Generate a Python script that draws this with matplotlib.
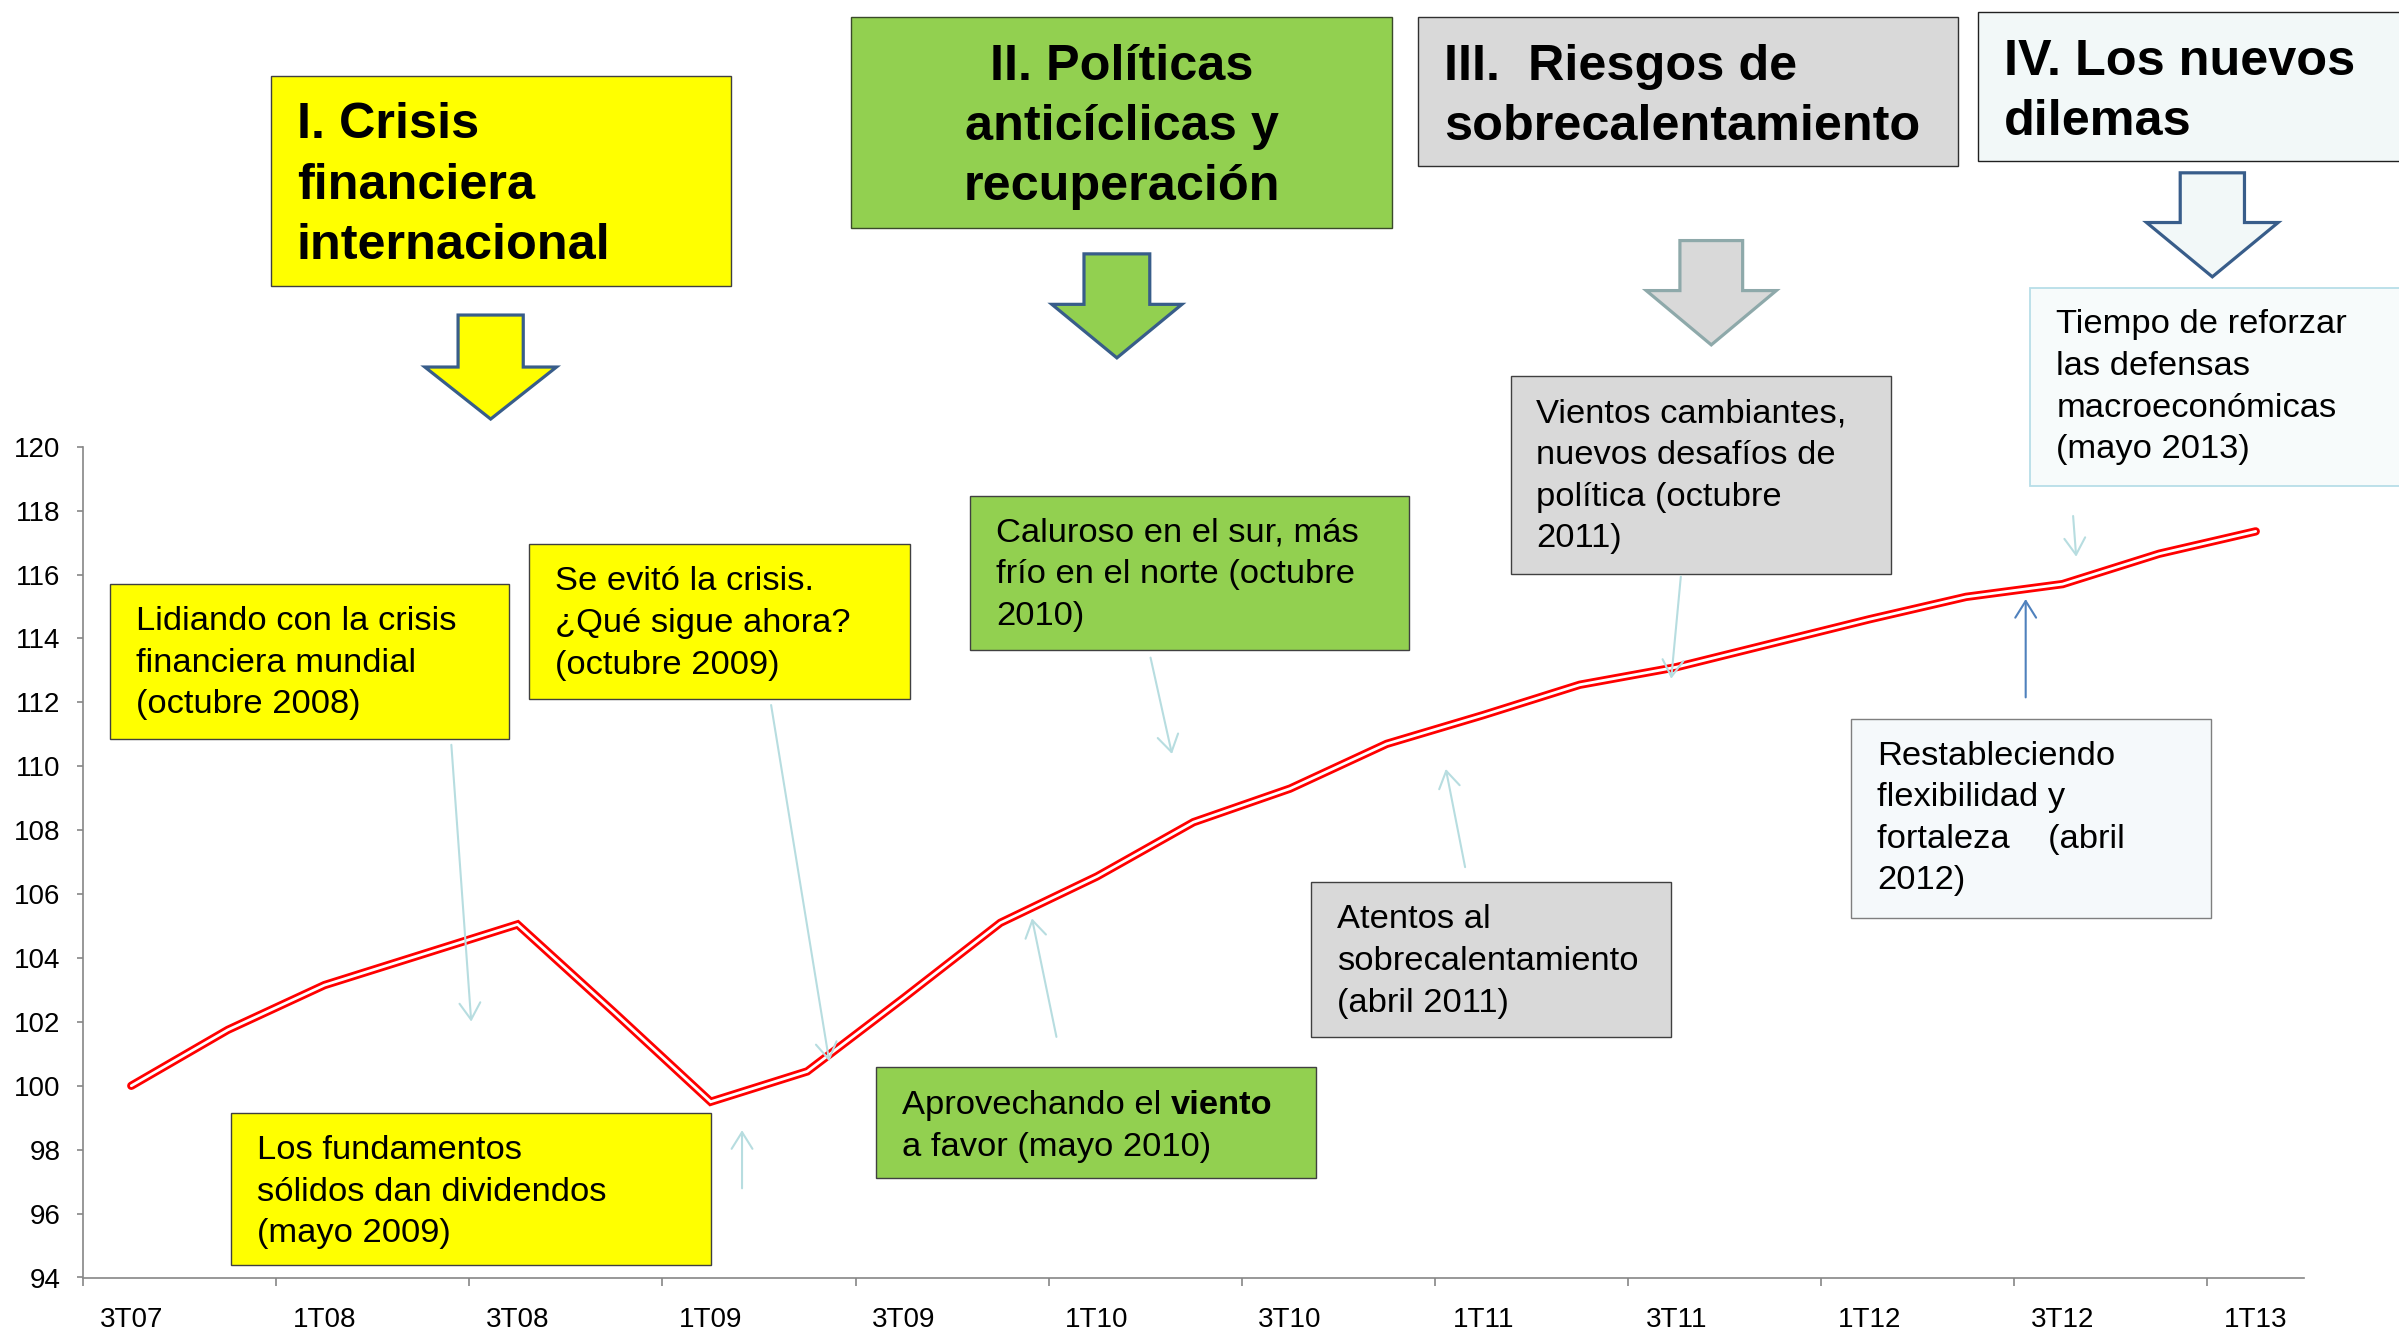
import matplotlib
matplotlib.use('Agg')
import matplotlib.pyplot as plt
from matplotlib.patches import Rectangle, Polygon, FancyArrowPatch
import numpy as np

plt.rcParams['font.family'] = ['Liberation Sans', 'DejaVu Sans']

# ---------------- data ----------------
quarters = ['3T07', '4T07', '1T08', '2T08', '3T08', '4T08', '1T09', '2T09',
            '3T09', '4T09', '1T10', '2T10', '3T10', '4T10', '1T11', '2T11',
            '3T11', '4T11', '1T12', '2T12', '3T12', '4T12', '1T13']
index_values = [100.0, 101.75, 103.15, 104.1, 105.05, 102.3, 99.5, 100.45,
                102.75, 105.1, 106.55, 108.25, 109.3, 110.7, 111.6, 112.55,
                113.1, 113.85, 114.6, 115.3, 115.7, 116.65, 117.35]
y_ticks = list(range(94, 121, 2))

title_I = ['I. Crisis', 'financiera', 'internacional']
title_II = ['II. Políticas', 'anticíclicas y', 'recuperación']
title_III = ['III.  Riesgos de', 'sobrecalentamiento']
title_IV = ['IV. Los nuevos', 'dilemas']

note_a = ['Lidiando con la crisis', 'financiera mundial', '(octubre 2008)']
note_b = ['Se evitó la crisis.', '¿Qué sigue ahora?', '(octubre 2009)']
note_c = ['Los fundamentos', 'sólidos dan dividendos', '(mayo 2009)']
note_d1 = ['Aprovechando el ', 'viento']
note_d2 = 'a favor (mayo 2010)'
note_e = ['Caluroso en el sur, más', 'frío en el norte (octubre', '2010)']
note_f = ['Atentos al', 'sobrecalentamiento', '(abril 2011)']
note_g = ['Vientos cambiantes,', 'nuevos desafíos de', 'política (octubre', '2011)']
note_h = ['Restableciendo', 'flexibilidad y', 'fortaleza    (abril', '2012)']
note_i = ['Tiempo de reforzar', 'las defensas', 'macroeconómicas', '(mayo 2013)']

# ---------------- figure ----------------
W, H = 2399, 1329
fig = plt.figure(figsize=(W / 100, H / 100), dpi=100)
fig.patch.set_facecolor('white')

ax = fig.add_axes([83 / W, 1 - 1277.5 / H, (2304 - 83) / W, (1277.5 - 446.7) / H])
x = np.arange(len(quarters))
ax.plot(x, index_values, color='#FF0000', lw=6.0, solid_capstyle='round',
        solid_joinstyle='miter', zorder=3)
ax.plot(x, index_values, color='white', lw=2.0, solid_capstyle='round',
        solid_joinstyle='miter', zorder=4)

ax.set_xlim(-0.5, 22.5)
ax.set_ylim(94, 120)
ax.set_yticks(y_ticks)
ax.set_yticklabels([str(v) for v in y_ticks])
ax.set_xticks(x[::2])
ax.set_xticklabels(quarters[::2])
ax.set_xticks(np.arange(-0.5, 22.5, 2), minor=True)
axis_gray = '#868686'
ax.tick_params(axis='x', which='major', length=0, pad=21.5, labelsize=20)
ax.tick_params(axis='x', which='minor', length=5.5, width=1.2, color=axis_gray)
ax.tick_params(axis='y', length=4.3, width=1.2, color=axis_gray, pad=12, labelsize=20)
for s in ['top', 'right']:
    ax.spines[s].set_visible(False)
for s in ['left', 'bottom']:
    ax.spines[s].set_color(axis_gray)
    ax.spines[s].set_linewidth(1.2)
ax.set_facecolor('none')

# ---------------- overlay (layout in reference pixel units) ----------------
ov = fig.add_axes([0, 0, 1, 1])
ov.set_xlim(0, 1568)
ov.set_ylim(869, 0)
ov.axis('off')
ov.patch.set_alpha(0)

YELLOW = '#FFFF00'
GREEN = '#92D050'
GRAY = '#D9D9D9'
LIGHT = '#F2F8F8'
LIGHT2 = '#F5F9FB'
EDGE = '#404040'
SIZE_T = 36.3
SIZE_N = 24.8


def box(x0, y0, x1, y1, fc, ec=EDGE, lw=1.0):
    ov.add_patch(Rectangle((x0, y0), x1 - x0, y1 - y0, facecolor=fc,
                           edgecolor=ec, lw=lw, zorder=2))


def put_lines(xp, y0, dy, lines, size, weight='normal', ha='left'):
    for i, ln in enumerate(lines):
        ov.text(xp, y0 + i * dy, ln, fontsize=size, fontweight=weight,
                ha=ha, va='baseline', color='black', zorder=5)


def block_arrow(cx, top, sw, hw, yh, tip, fc, ec):
    pts = [(cx - sw, top), (cx + sw, top), (cx + sw, yh), (cx + hw, yh),
           (cx, tip), (cx - hw, yh), (cx - sw, yh)]
    ov.add_patch(Polygon(pts, closed=True, facecolor=fc, edgecolor=ec,
                         lw=2.3, joinstyle='miter', zorder=3))


def thin_arrow(p0, p1, color='#B7DDE0'):
    ov.add_patch(FancyArrowPatch(p0, p1, arrowstyle='->,head_length=0.8,head_width=0.5',
                                 mutation_scale=15, color=color, lw=1.5,
                                 shrinkA=0, shrinkB=0, zorder=6))


# Phase title boxes
box(177, 49.5, 478, 187, YELLOW)
put_lines(194, 90.5, 39.5, title_I, SIZE_T, 'bold')
box(556, 11.3, 910, 149, GREEN, ec='#3a4a2a')
put_lines(733, 52.3, 39.2, title_II, SIZE_T, 'bold', ha='center')
box(927, 11.3, 1280, 108.5, GRAY, ec='#303030')
put_lines(944, 52.3, 39.2, title_III, SIZE_T, 'bold')
box(1293, 8, 1600, 105, LIGHT, ec='#202020')
put_lines(1310, 49, 39.2, title_IV, SIZE_T, 'bold')

# Block arrows
block_arrow(320.7, 206, 21.3, 43, 240, 274, YELLOW, '#385D8A')
block_arrow(730, 166, 21.5, 42.5, 199, 234, GREEN, '#385D8A')
block_arrow(1118.5, 157.3, 20.5, 42.5, 190, 225.5, GRAY, '#8EA9AA')
block_arrow(1446, 113, 21, 43, 145.5, 181, LIGHT, '#385D8A')

# Note boxes
DY = 27.2
box(72, 382, 333, 483, YELLOW)
put_lines(89, 412, DY, note_a, SIZE_N)
box(346, 356, 595, 457, YELLOW)
put_lines(363, 386, DY, note_b, SIZE_N)
box(151, 728, 464.5, 827, YELLOW)
put_lines(168, 758, DY, note_c, SIZE_N)

box(572.5, 698, 860, 770, GREEN)
t1 = ov.text(589.5, 728.7, note_d1[0], fontsize=SIZE_N, ha='left', va='baseline', zorder=5)
ov.annotate(note_d1[1], xy=(1, 0), xycoords=t1, xytext=(0, 0), textcoords='offset points',
            fontsize=SIZE_N, fontweight='bold', ha='left', va='bottom', zorder=5)
ov.text(589.5, 728.7 + DY, note_d2, fontsize=SIZE_N, ha='left', va='baseline', zorder=5)

box(634, 324, 921, 425, GREEN)
put_lines(651, 354, DY, note_e, SIZE_N)
box(857, 577, 1092, 678, GRAY)
put_lines(874, 607, DY, note_f, SIZE_N)
box(987.5, 246, 1236, 375, GRAY)
put_lines(1004, 276.3, DY, note_g, SIZE_N)
box(1210, 470, 1445, 600, LIGHT2, ec='#7F7F7F')
put_lines(1227, 500, DY, note_h, SIZE_N)
box(1327, 188, 1600, 318, '#F7FBFB', ec='#B7DEE8', lw=1.3)
put_lines(1344, 218, DY, note_i, SIZE_N)

# Thin pointer arrows
thin_arrow((295, 487), (308, 668))
thin_arrow((504, 461), (542, 694))
thin_arrow((485, 777), (485, 739))
thin_arrow((690.5, 678), (674.5, 600.5))
thin_arrow((752, 430), (766, 493))
thin_arrow((957.6, 567), (945, 502.8))
thin_arrow((1098.6, 377), (1092.3, 443.8))
thin_arrow((1324, 456), (1324, 391.7), color='#4F81BD')
thin_arrow((1355, 337.4), (1357, 364))

fig.savefig('out.png', dpi=100, facecolor='white')
